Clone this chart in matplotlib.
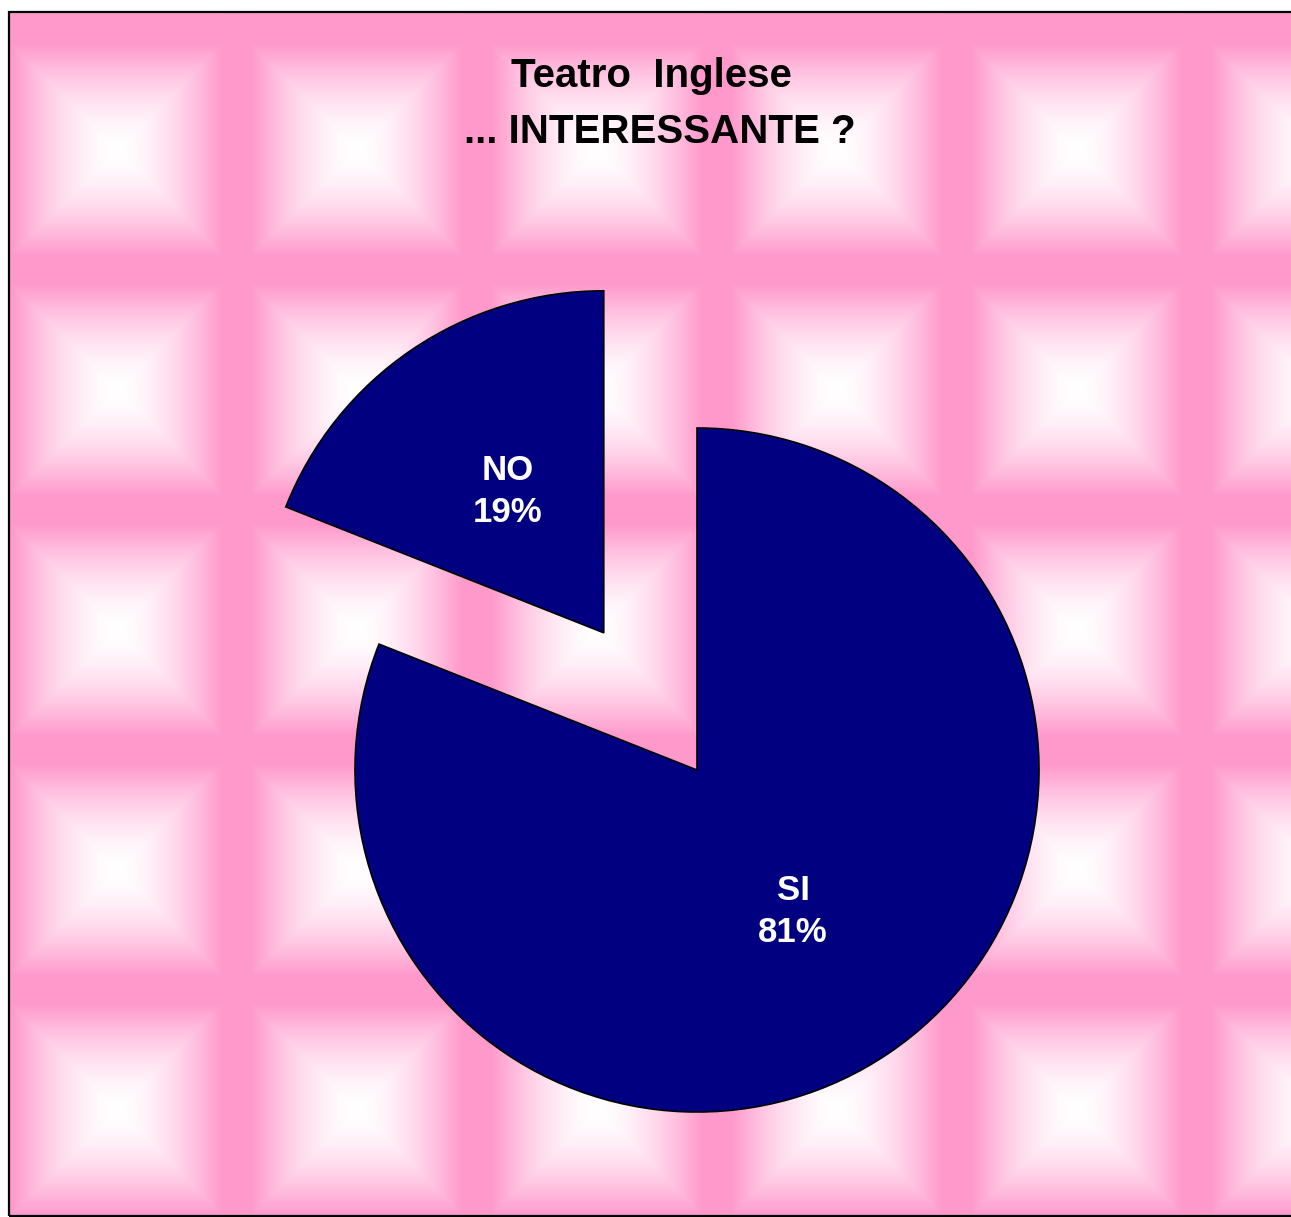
"""Pie chart: Teatro Inglese ... INTERESSANTE ?"""
import matplotlib

matplotlib.use("Agg")

import matplotlib.pyplot as plt  # noqa: E402
import numpy as np  # noqa: E402
from matplotlib.patches import Rectangle  # noqa: E402

categories = ["NO", "SI"]
values = [19, 81]
explode = [0.485, 0.0]  # fraction of the radius

W, H = 1291, 1217
NAVY = "#000080"
PINK = np.array([255, 153, 204]) / 255.0
FONT = "Liberation Sans"
RADIUS = 342

# frame of the chart area, in pixels from the top-left corner
FX0, FY0, FX1, FY1 = 9, 12, 1293, 1216


def pillow_background(x0, y0, x1, y1, period=240, cx=117, cy=150):
    """Tiled pink 'pillow' texture with white square cores."""
    xs = np.arange(x0, x1) + 0.5
    ys = np.arange(y0, y1) + 0.5
    xx, yy = np.meshgrid(xs, ys)
    half = period / 2
    dx = np.abs(((xx - cx + half) % period) - half) / half
    dy = np.abs(((yy - cy + half) % period) - half) / half
    t = np.maximum(dx, dy)
    t = np.clip(t / 0.88, 0, 1) ** 1.6
    img = (1 - t)[..., None] * np.ones(3) + t[..., None] * PINK
    return img


fig = plt.figure(figsize=(W / 100, H / 100), dpi=100)
ax = fig.add_axes([0, 0, 1, 1])

bg = pillow_background(FX0, FY0, FX1, FY1)
ax.imshow(bg, extent=[FX0, FX1, H - FY1, H - FY0], origin="upper",
          interpolation="bilinear", zorder=0)
ax.add_patch(Rectangle((FX0, H - FY1), FX1 - FX0, FY1 - FY0, fill=False,
                       edgecolor="black", linewidth=1.6, zorder=5))

names = iter(categories)
wedges, texts, autotexts = ax.pie(
    values,
    explode=[e * RADIUS for e in explode],
    colors=[NAVY] * len(values),
    startangle=90,
    counterclock=True,
    radius=RADIUS,
    center=(697, H - 770),
    autopct=lambda p: f"{next(names)}\n{p:.0f}%",
    pctdistance=0.5,
    wedgeprops=dict(edgecolor="black", linewidth=1.2, zorder=2),
    textprops=dict(color="white", fontsize=25, fontweight="bold",
                   family=FONT),
    frame=True,
)
for t in autotexts:
    t.set_zorder(3)
    t.set_linespacing(1.35)

ax.text(651, H - 87, "Teatro  Inglese", ha="center", va="baseline",
        fontsize=29, fontweight="bold", family=FONT, color="black", zorder=4)
ax.text(660, H - 143, "... INTERESSANTE ?", ha="center", va="baseline",
        fontsize=29, fontweight="bold", family=FONT, color="black", zorder=4)

ax.set_aspect("auto")
ax.set_xlim(0, W)
ax.set_ylim(0, H)
ax.axis("off")

fig.savefig("out.png", dpi=100, facecolor="white")
plt.close(fig)
